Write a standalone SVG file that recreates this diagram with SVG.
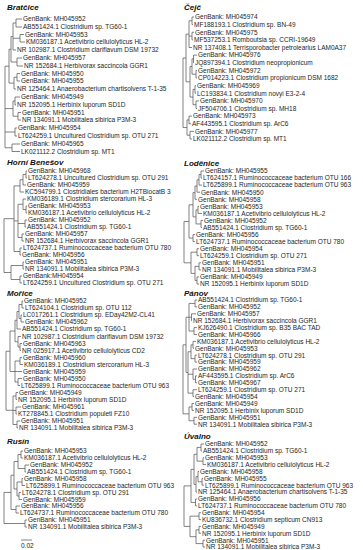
<svg xmlns="http://www.w3.org/2000/svg" width="363" height="550" viewBox="0 0 363 550">
<style>
.bg{fill:#fff}
.t{font-family:"Liberation Sans",Arial,sans-serif;font-size:6.5px;fill:#1e1e1e}
.h{font-family:"Liberation Sans",Arial,sans-serif;font-size:8px;font-weight:bold;font-style:italic;fill:#111}
.e{fill:none;stroke:#5a5a5a;stroke-width:0.75}
</style>
<rect class="bg" width="363" height="550"/>
<g id="connectors">
<path class="e" d="M16 19V27M16 19H22M16 27H22 M20 34.5V42M20 34.5H24M20 42H25 M13 23V50M13 23H16M13 38.25H20M13 50H16 M17 58V66M17 58H22M17 66H23 M17 73.5V81M17 73.5H20M17 81H20 M14 77.25V89M14 77.25H17M14 89H16 M11 36.5V62M11 36.5H13M11 62H17 M9 49.25V83.1M9 49.25H11M9 83.1H14 M15 97V105M15 97H20M15 105H16 M18 112.5V120M18 112.5H21M18 120H21 M13 101V116.25M13 101H15M13 116.25H18 M15 128V136M15 128H17M15 136H17 M12 144V151.5M12 144H20M12 151.5H20 M5 66.2V147.75M5 66.2H9M5 108.6H13M5 132H15M5 147.75H12"/>
<path class="e" d="M26 171V178M26 171H27M26 178H27 M23 174.5V185M23 174.5H26M23 185H26 M20 179.75V192M20 179.75H23M20 192H24 M26 206V213M26 206H27M26 213H27 M23 199V209.5M23 199H26M23 209.5H26 M25 220V227M25 220H27M25 227H26 M22 234V241M22 234H24M22 241H24 M18 204.25V237.5M18 204.25H23M18 223.5H25M18 237.5H22 M20 248V255M20 248H22M20 255H21 M14 185.9V251.5M14 185.9H20M14 220.9H18M14 251.5H20 M23 262V269M23 262H24M23 269H24 M20 276V283M20 276H22M20 283H22 M11 265.5V279.5M11 265.5H23M11 279.5H20 M4 218.7V272.5M4 218.7H14M4 272.5H11"/>
<path class="e" d="M22 301V308M22 301H23M22 308H24 M21 315V322M21 315H22M21 322H24 M19 304.5V318.5M19 304.5H22M19 318.5H21 M17 311.5V329M17 311.5H19M17 329H21 M20 343.5V350.5M20 343.5H22M20 350.5H21 M18 336.5V347M18 336.5H21M18 347H20 M15 320.25V341.75M15 320.25H17M15 341.75H18 M20 357.5V364.5M20 357.5H22M20 364.5H23 M18 378.5V385.5M18 378.5H22M18 385.5H20 M15 361V382M15 361H20M15 371.5H22M15 382H18 M10 331V371.5M10 331H15M10 371.5H15 M16 392.5V399.5M16 392.5H18M16 399.5H17 M16 407V414M16 407H21M16 414H17 M17 421V428M17 421H20M17 428H18 M13 396V424.5M13 396H16M13 410.5H16M13 424.5H17 M6 351.25V410.25M6 351.25H10M6 410.25H13"/>
<path class="e" d="M21 451V458M21 451H23M21 458H23 M25 465V472M25 465H29M25 472H26 M22 478.5V485.5M22 478.5H23M22 485.5H25 M19 492.5V499.5M19 492.5H21M19 499.5H22 M17 482V496M17 482H22M17 496H19 M18 454.5V468.5M18 454.5H21M18 468.5H25 M14 461.5V489M14 461.5H18M14 489H17 M16 506V513M16 506H20M16 513H19 M11 475.25V509.5M11 475.25H14M11 509.5H16 M25 520V527M25 520H27M25 527H27 M4 492.4V523.5M4 492.4H11M4 523.5H25"/>
<path class="e" d="M192 17V24.6M192 17H194M192 24.6H193 M192 32.25V39.9M192 32.25H194M192 39.9H193 M189 20.8V47.5M189 20.8H192M189 36.1H192M189 47.5H192 M193.5 55.1V62.75M193.5 55.1H197M193.5 62.75H194 M196 70.4V78M196 70.4H197M196 78H197 M192 58.9V74.2M192 58.9H193.5M192 74.2H196 M195 85.6V93.25M195 85.6H196M195 93.25H196 M196 100.9V108.5M196 100.9H199M196 108.5H197 M193 89.4V104.7M193 89.4H195M193 104.7H196 M190 66.55V97.05M190 66.55H192M190 97.05H193 M186 34.15V81.8M186 34.15H189M186 81.8H190 M189 116.1V123.75M189 116.1H192M189 123.75H191 M190 131.4V139M190 131.4H194M190 139H192 M187 119.9V135.2M187 119.9H189M187 135.2H190 M183 58V127.55M183 58H186M183 127.55H187"/>
<path class="e" d="M201 171V178.1M201 171H204M201 178.1H202 M199 174.55V185.1M199 174.55H201M199 185.1H202 M197 179.8V192.2M197 179.8H199M197 192.2H200 M195 186V199.3M195 186H197M195 199.3H197 M198 206.3V213.4M198 206.3H199M198 213.4H202 M201 220.4V227.5M201 220.4H203M201 227.5H202 M196 209.85V223.95M196 209.85H198M196 223.95H201 M193 192.65V216.9M193 192.65H195M193 216.9H196 M193 234.6V241.6M193 234.6H195M193 241.6H195 M189 204.8V238.1M189 204.8H193M189 238.1H193 M197 248.7V255.7M197 248.7H199M197 255.7H199 M199 262.8V269.9M199 262.8H201M199 269.9H201 M197 276.9V284M197 276.9H199M197 284H199 M195 266.35V280.45M195 266.35H199M195 280.45H197 M191 252.2V273.4M191 252.2H197M191 273.4H195 M184 221.45V262.8M184 221.45H189M184 262.8H191"/>
<path class="e" d="M195 300V306.9M195 300H197M195 306.9H197 M191.5 313.8V320.7M191.5 313.8H196M191.5 320.7H192 M194 327.6V334.5M194 327.6H197M194 334.5H197 M189 303.45V331.05M189 303.45H195M189 317.25H191.5M189 331.05H194 M193 341.4V348.3M193 341.4H196M193 348.3H194 M195 355.2V362.1M195 355.2H197M195 362.1H197 M191 344.85V358.65M191 344.85H193M191 358.65H195 M195.5 375.9V382.8M195.5 375.9H197M195.5 382.8H197 M193 369V379.35M193 369H197M193 379.35H195.5 M193 389.7V396.6M193 389.7H197M193 396.6H194 M188 351.75V393.15M188 351.75H191M188 374.2H193M188 393.15H193 M186 317.25V372.45M186 317.25H189M186 372.45H188 M192 403.5V410.4M192 403.5H194M192 410.4H194 M194 417.3V424.2M194 417.3H197M194 424.2H197 M189 406.95V420.75M189 406.95H192M189 420.75H194 M183 344.85V413.85M183 344.85H186M183 413.85H189"/>
<path class="e" d="M201 444V450.9M201 444H204M201 450.9H202 M203 457.7V464.6M203 457.7H204M203 464.6H206 M197 447.45V461.15M197 447.45H201M197 461.15H203 M202 478.4V485.2M202 478.4H203M202 485.2H204 M198 471.5V481.8M198 471.5H199M198 481.8H202 M196 476.65V492.1M196 476.65H198M196 492.1H197 M194 454.3V484.4M194 454.3H197M194 484.4H196 M195.5 499V505.8M195.5 499H197M195.5 505.8H197 M191 469.35V502.4M191 469.35H194M191 502.4H195.5 M199 512.7V519.6M199 512.7H201M199 519.6H201 M199 526.4V533.3M199 526.4H201M199 533.3H201 M203 540.2V547M203 540.2H205M203 547H205 M196 529.85V543.6M196 529.85H199M196 543.6H203 M190 516.15V536.7M190 516.15H199M190 536.7H196 M184 485.9V526.4M184 485.9H191M184 526.4H190"/>
<path class="e" d="M21 540H32"/>
</g>
<g id="bratcice">
<g id="bt"><text class="h" x="7" y="10">Bratčice</text></g>
<g id="b1"><text class="t" x="23" y="21.3">GenBank: MH045952</text></g>
<g id="b2"><text class="t" x="23" y="29.3">AB551424.1 Clostridium sp. TG60-1</text></g>
<g id="b3"><text class="t" x="25" y="36.8">GenBank: MH045953</text></g>
<g id="b4"><text class="t" x="26" y="44.3">KM036187.1 Acetivibrio cellulolyticus HL-2</text></g>
<g id="b5"><text class="t" x="17" y="52.3">NR 102987.1 Clostridium clariflavum DSM 19732</text></g>
<g id="b6"><text class="t" x="23" y="60.3">GenBank: MH045957</text></g>
<g id="b7"><text class="t" x="24" y="68.3">NR 152684.1 Herbivorax saccincola GGR1</text></g>
<g id="b8"><text class="t" x="21" y="75.8">GenBank: MH045950</text></g>
<g id="b9"><text class="t" x="21" y="83.3">GenBank: MH045955</text></g>
<g id="b10"><text class="t" x="17" y="91.3">NR 125464.1 Anaerobacterium chartisolvens T-1-35</text></g>
<g id="b11"><text class="t" x="21" y="99.3">GenBank: MH045949</text></g>
<g id="b12"><text class="t" x="17" y="107.3">NR 152095.1 Herbinix luporum SD1D</text></g>
<g id="b13"><text class="t" x="22" y="114.8">GenBank: MH045951</text></g>
<g id="b14"><text class="t" x="22" y="122.3">NR 134091.1 Mobilitalea sibirica P3M-3</text></g>
<g id="b15"><text class="t" x="18" y="130.3">GenBank: MH045954</text></g>
<g id="b16"><text class="t" x="18" y="138.3">LT624259.1 Uncultured Clostridium sp. OTU 271</text></g>
<g id="b17"><text class="t" x="21" y="146.3">GenBank: MH045965</text></g>
<g id="b18"><text class="t" x="21" y="153.8">LK021112.2 Clostridium sp. MT1</text></g>
</g>
<g id="horni-benesov">
<g id="ht"><text class="h" x="7" y="165">Horní Benešov</text></g>
<g id="h1"><text class="t" x="28" y="173.3">GenBank: MH045968</text></g>
<g id="h2"><text class="t" x="28" y="180.3">LT624278.1 Uncultured Clostridium sp. OTU 291</text></g>
<g id="h3"><text class="t" x="27" y="187.3">GenBank: MH045959</text></g>
<g id="h4"><text class="t" x="25" y="194.3">KC594799.1 Clostridiales bacterium H2TBiocatB 3</text></g>
<g id="h5"><text class="t" x="27" y="201.3">KM036189.1 Clostridium stercorarium HL-3</text></g>
<g id="h6"><text class="t" x="28" y="208.3">GenBank: MH045953</text></g>
<g id="h7"><text class="t" x="28" y="215.3">KM036187.1 Acetivibrio cellulolyticus HL-2</text></g>
<g id="h8"><text class="t" x="28" y="222.3">GenBank: MH045952</text></g>
<g id="h9"><text class="t" x="27" y="229.3">AB551424.1 Clostridium sp. TG60-1</text></g>
<g id="h10"><text class="t" x="25" y="236.3">GenBank: MH045957</text></g>
<g id="h11"><text class="t" x="25" y="243.3">NR 152684.1 Herbivorax saccincola GGR1</text></g>
<g id="h12"><text class="t" x="23" y="250.3">LT624737.1 Ruminococcaceae bacterium OTU 780</text></g>
<g id="h13"><text class="t" x="22" y="257.3">GenBank: MH045956</text></g>
<g id="h14"><text class="t" x="25" y="264.3">GenBank: MH045951</text></g>
<g id="h15"><text class="t" x="25" y="271.3">NR 134091.1 Mobilitalea sibirica P3M-3</text></g>
<g id="h16"><text class="t" x="23" y="278.3">GenBank:MH045954</text></g>
<g id="h17"><text class="t" x="23" y="285.3">LT624259.1 Uncultured Clostridium sp. OTU 271</text></g>
</g>
<g id="morice">
<g id="mt"><text class="h" x="7" y="296">Mořice</text></g>
<g id="m1"><text class="t" x="24" y="303.3">GenBank: MH045952</text></g>
<g id="m2"><text class="t" x="25" y="310.3">LT624104.1 Clostridium sp. OTU 112</text></g>
<g id="m3"><text class="t" x="23" y="317.3">LC017261.1 Clostridium sp. EDay42M2-CL41</text></g>
<g id="m4"><text class="t" x="25" y="324.3">GenBank: MH045962</text></g>
<g id="m5"><text class="t" x="22" y="331.3">AB551424.1 Clostridium sp. TG60-1</text></g>
<g id="m6"><text class="t" x="22" y="338.8">NR 102987.1 Clostridium clariflavum DSM 19732</text></g>
<g id="m7"><text class="t" x="23" y="345.8">GenBank: MH045963</text></g>
<g id="m8"><text class="t" x="22" y="352.8">NR 025917.1 Acetivibrio cellulolyticus CD2</text></g>
<g id="m9"><text class="t" x="23" y="359.8">GenBank: MH045960</text></g>
<g id="m10"><text class="t" x="24" y="366.8">KM036189.1 Clostridium stercorarium HL-3</text></g>
<g id="m11"><text class="t" x="23" y="373.8">GenBank: MH045959</text></g>
<g id="m12"><text class="t" x="23" y="380.8">GenBank: MH045950</text></g>
<g id="m13"><text class="t" x="21" y="387.8">LT625899.1 Ruminococcaceae bacterium OTU 963</text></g>
<g id="m14"><text class="t" x="19" y="394.8">GenBank: MH045949</text></g>
<g id="m15"><text class="t" x="18" y="401.8">NR 152095.1 Herbinix luporum SD1D</text></g>
<g id="m16"><text class="t" x="22" y="409.3">GenBank: MH045961</text></g>
<g id="m17"><text class="t" x="18" y="416.3">KT278845.1 Clostridium populeti FZ10</text></g>
<g id="m18"><text class="t" x="21" y="423.3">GenBank: MH045951</text></g>
<g id="m19"><text class="t" x="19" y="430.3">NR 134091.1 Mobilitalea sibirica P3M-3</text></g>
</g>
<g id="rusin">
<g id="rt"><text class="h" x="7" y="444">Rusín</text></g>
<g id="r1"><text class="t" x="24" y="453.3">GenBank: MH045953</text></g>
<g id="r2"><text class="t" x="24" y="460.3">KM036187.1 Acetivibrio cellulolyticus HL-2</text></g>
<g id="r3"><text class="t" x="30" y="467.3">GenBank: MH045952</text></g>
<g id="r4"><text class="t" x="27" y="474.3">AB551424.1 Clostridium sp. TG60-1</text></g>
<g id="r5"><text class="t" x="24" y="480.8">GenBank: MH045958</text></g>
<g id="r6"><text class="t" x="26" y="487.8">LT625899.1 Ruminococcaceae bacterium OTU 963</text></g>
<g id="r7"><text class="t" x="22" y="494.8">LT624278.1 Clostridium sp. OTU 291</text></g>
<g id="r8"><text class="t" x="23" y="501.8">GenBank: MH045959</text></g>
<g id="r9"><text class="t" x="21" y="508.3">GenBank: MH045956</text></g>
<g id="r10"><text class="t" x="20" y="515.3">LT624737.1 Ruminococcaceae bacterium OTU 780</text></g>
<g id="r11"><text class="t" x="28" y="522.3">GenBank: MH045951</text></g>
<g id="r12"><text class="t" x="28" y="529.3">NR 134091.1 Mobilitalea sibirica P3M-3</text></g>
<g id="scale"><text class="t" x="21" y="547.5">0.02</text></g>
</g>
<g id="cejc">
<g id="ct"><text class="h" x="184" y="10">Čejč</text></g>
<g id="c1"><text class="t" x="195" y="19.3">GenBank: MH045974</text></g>
<g id="c2"><text class="t" x="194" y="26.9">MF188193.1 Clostridium sp. BN-49</text></g>
<g id="c3"><text class="t" x="195" y="34.5">GenBank: MH045975</text></g>
<g id="c4"><text class="t" x="194" y="42.2">MF537253.1 Romboutsia sp. CCRI-19649</text></g>
<g id="c5"><text class="t" x="193" y="49.8">NR 137408.1 Terrisporobacter petrolearius LAM0A37</text></g>
<g id="c6"><text class="t" x="198" y="57.4">GenBank: MH045976</text></g>
<g id="c7"><text class="t" x="195" y="65">JQ897394.1 Clostridium neopropionicum</text></g>
<g id="c8"><text class="t" x="198" y="72.7">GenBank: MH045972</text></g>
<g id="c9"><text class="t" x="198" y="80.3">CP014223.1 Clostridium propionicum DSM 1682</text></g>
<g id="c10"><text class="t" x="197" y="87.9">GenBank: MH045969</text></g>
<g id="c11"><text class="t" x="197" y="95.5">LC193834.1 Clostridium novyi E3-2-4</text></g>
<g id="c12"><text class="t" x="200" y="103.2">GenBank: MH045970</text></g>
<g id="c13"><text class="t" x="198" y="110.8">JF504706.1 Clostridium sp. MH18</text></g>
<g id="c14"><text class="t" x="193" y="118.4">GenBank: MH045973</text></g>
<g id="c15"><text class="t" x="192" y="126">AF443595.1 Clostridium sp. ArC6</text></g>
<g id="c16"><text class="t" x="195" y="133.7">GenBank: MH045977</text></g>
<g id="c17"><text class="t" x="193" y="141.3">LK021112.2 Clostridium sp. MT1</text></g>
</g>
<g id="lodenice">
<g id="lt"><text class="h" x="184" y="166">Loděnice</text></g>
<g id="l1"><text class="t" x="205" y="173.3">GenBank: MH045955</text></g>
<g id="l2"><text class="t" x="203" y="180.4">LT624157.1 Ruminococcaceae bacterium OTU 166</text></g>
<g id="l3"><text class="t" x="203" y="187.4">LT625899.1 Ruminococcaceae bacterium OTU 963</text></g>
<g id="l4"><text class="t" x="201" y="194.5">GenBank: MH045950</text></g>
<g id="l5"><text class="t" x="198" y="201.6">GenBank: MH045958</text></g>
<g id="l6"><text class="t" x="200" y="208.6">GenBank: MH045953</text></g>
<g id="l7"><text class="t" x="203" y="215.7">KM036187.1 Acetivibrio cellulolyticus HL-2</text></g>
<g id="l8"><text class="t" x="204" y="222.7">GenBank: MH045952</text></g>
<g id="l9"><text class="t" x="203" y="229.8">AB551424.1 Clostridium sp. TG60-1</text></g>
<g id="l10"><text class="t" x="196" y="236.9">GenBank: MH045956</text></g>
<g id="l11"><text class="t" x="196" y="243.9">LT624737.1 Ruminococcaceae bacterium OTU 780</text></g>
<g id="l12"><text class="t" x="200" y="251">GenBank: MH045954</text></g>
<g id="l13"><text class="t" x="200" y="258">LT624259.1 Clostridium sp. OTU 271</text></g>
<g id="l14"><text class="t" x="202" y="265.1">GenBank: MH045951</text></g>
<g id="l15"><text class="t" x="202" y="272.2">NR 134091.1 Mobilitalea sibirica P3M-3</text></g>
<g id="l16"><text class="t" x="200" y="279.2">GenBank: MH045949</text></g>
<g id="l17"><text class="t" x="200" y="286.3">NR 152095.1 Herbinix luporum SD1D</text></g>
</g>
<g id="panov">
<g id="pt"><text class="h" x="184" y="296">Pánov</text></g>
<g id="p1"><text class="t" x="198" y="302.3">AB551424.1 Clostridium sp. TG60-1</text></g>
<g id="p2"><text class="t" x="198" y="309.2">GenBank: MH045952</text></g>
<g id="p3"><text class="t" x="197" y="316.1">GenBank: MH045957</text></g>
<g id="p4"><text class="t" x="193" y="323">NR 152684.1 Herbivorax saccincola GGR1</text></g>
<g id="p5"><text class="t" x="198" y="329.9">KJ626490.1 Clostridium sp. B35 BAC TAD</text></g>
<g id="p6"><text class="t" x="198" y="336.8">GenBank: MH045966</text></g>
<g id="p7"><text class="t" x="197" y="343.7">KM036187.1 Acetivibrio cellulolyticus HL-2</text></g>
<g id="p8"><text class="t" x="195" y="350.6">GenBank: MH045953</text></g>
<g id="p9"><text class="t" x="198" y="357.5">LT624278.1 Clostridium sp. OTU 291</text></g>
<g id="p10"><text class="t" x="198" y="364.4">GenBank: MH045959</text></g>
<g id="p11"><text class="t" x="198" y="371.3">GenBank: MH045962</text></g>
<g id="p12"><text class="t" x="198" y="378.2">AF443595.1 Clostridium sp. ArC6</text></g>
<g id="p13"><text class="t" x="198" y="385.1">GenBank: MH045967</text></g>
<g id="p14"><text class="t" x="198" y="392">LT624259.1 Clostridium sp. OTU 271</text></g>
<g id="p15"><text class="t" x="195" y="398.9">GenBank: MH045954</text></g>
<g id="p16"><text class="t" x="195" y="405.8">GenBank: MH045949</text></g>
<g id="p17"><text class="t" x="195" y="412.7">NR 152095.1 Herbinix luporum SD1D</text></g>
<g id="p18"><text class="t" x="198" y="419.6">GenBank: MH045951</text></g>
<g id="p19"><text class="t" x="198" y="426.5">NR 134091.1 Mobilitalea sibirica P3M-3</text></g>
</g>
<g id="uvalno">
<g id="ut"><text class="h" x="184" y="439">Úvalno</text></g>
<g id="u1"><text class="t" x="205" y="446.3">GenBank: MH045952</text></g>
<g id="u2"><text class="t" x="203" y="453.2">AB551424.1 Clostridium sp. TG60-1</text></g>
<g id="u3"><text class="t" x="205" y="460">GenBank: MH045953</text></g>
<g id="u4"><text class="t" x="207" y="466.9">KM036187.1 Acetivibrio cellulolyticus HL-2</text></g>
<g id="u5"><text class="t" x="200" y="473.8">GenBank: MH045958</text></g>
<g id="u6"><text class="t" x="204" y="480.7">GenBank: MH045955</text></g>
<g id="u7"><text class="t" x="205" y="487.5">LT625899.1 Ruminococcaceae bacterium OTU 963</text></g>
<g id="u8"><text class="t" x="198" y="494.4">NR 125464.1 Anaerobacterium chartisolvens T-1-35</text></g>
<g id="u9"><text class="t" x="198" y="501.3">GenBank: MH045956</text></g>
<g id="u10"><text class="t" x="198" y="508.1">LT624737.1 Ruminococcaceae bacterium OTU 780</text></g>
<g id="u11"><text class="t" x="202" y="515">GenBank: MH045954</text></g>
<g id="u12"><text class="t" x="202" y="521.9">KU836732.1 Clostridium septicum CN913</text></g>
<g id="u13"><text class="t" x="202" y="528.7">GenBank: MH045949</text></g>
<g id="u14"><text class="t" x="202" y="535.6">NR 152095.1 Herbinix luporum SD1D</text></g>
<g id="u15"><text class="t" x="206" y="542.5">GenBank: MH045951</text></g>
<g id="u16"><text class="t" x="206" y="549.3">NR 134091.1 Mobilitalea sibirica P3M-3</text></g>
</g>
</svg>
